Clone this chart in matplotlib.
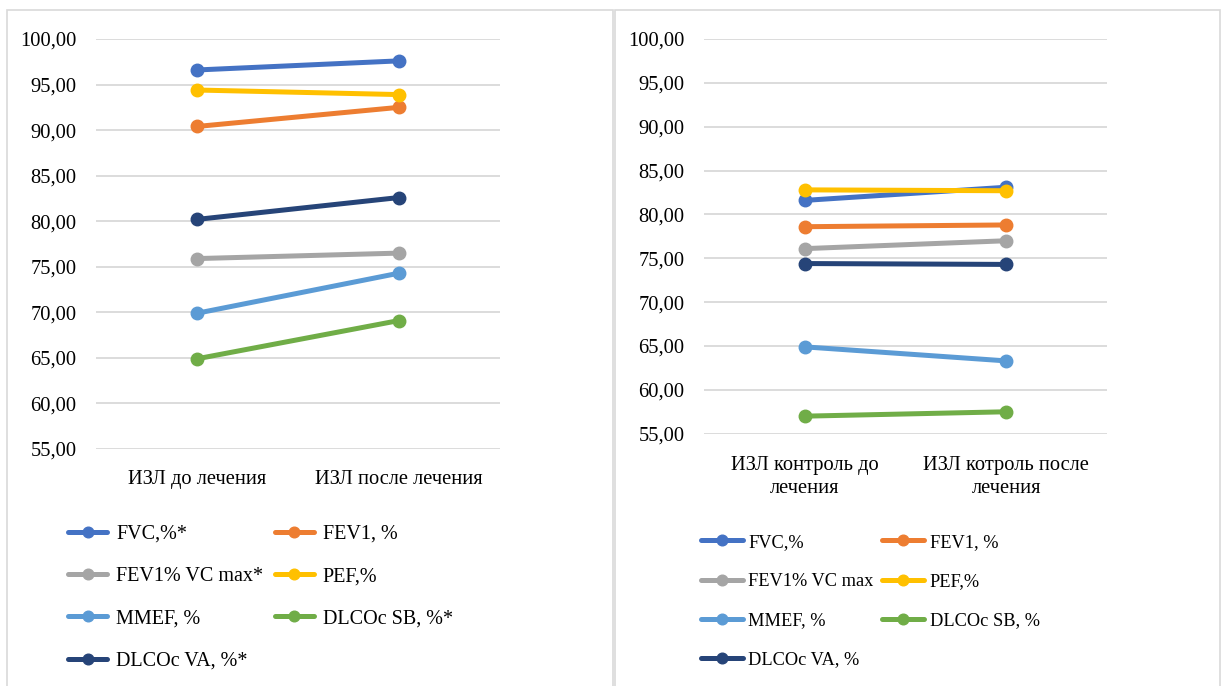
import numpy as np
import matplotlib
matplotlib.use("Agg")
import matplotlib.pyplot as plt
from matplotlib.patches import Rectangle
from matplotlib.ticker import FixedLocator, FuncFormatter

plt.rc('font', family=['Liberation Serif', 'DejaVu Serif'], size=14.8)

# series names and colours (Excel office palette)
names_left  = ["FVC,%*", "FEV1, %", "FEV1% VC max*", "PEF,%", "MMEF, %", "DLCOc SB, %*", "DLCOc VA, %*"]
names_right = ["FVC,%", "FEV1, %", "FEV1% VC max", "PEF,%", "MMEF, %", "DLCOc SB, %", "DLCOc VA, %"]
colors = ["#4472C4", "#ED7D31", "#A5A5A5", "#FFC000", "#5B9BD5", "#70AD47", "#264478"]

cats_left  = ["ИЗЛ до лечения", "ИЗЛ после лечения"]
cats_right = ["ИЗЛ контроль до\nлечения", "ИЗЛ котроль после\nлечения"]

# values: [before, after]
fvc_l   = [96.6, 97.6]
fev1_l  = [90.4, 92.5]
fevvc_l = [75.9, 76.5]
pef_l   = [94.4, 93.9]
mmef_l  = [69.9, 74.3]
dlsb_l  = [64.9, 69.1]
dlva_l  = [80.2, 82.6]

fvc_r   = [81.6, 83.1]
fev1_r  = [78.6, 78.8]
fevvc_r = [76.1, 77.0]
pef_r   = [82.8, 82.7]
mmef_r  = [64.9, 63.3]
dlsb_r  = [57.0, 57.5]
dlva_r  = [74.4, 74.3]

left_data  = [fvc_l, fev1_l, fevvc_l, pef_l, mmef_l, dlsb_l, dlva_l]
right_data = [fvc_r, fev1_r, fevvc_r, pef_r, mmef_r, dlsb_r, dlva_r]

yticks = np.arange(55, 101, 5)

W, H = 1222, 686
fig = plt.figure(figsize=(W/100, H/100), dpi=100)

# panel frames
fig.add_artist(Rectangle((7/W, -0.01), 606/W, 1 - 10/H + 0.01, transform=fig.transFigure,
                         fill=False, edgecolor="#d9d9d9", linewidth=1.2))
fig.add_artist(Rectangle((615/W, -0.01), 605/W, 1 - 10/H + 0.01, transform=fig.transFigure,
                         fill=False, edgecolor="#d9d9d9", linewidth=1.2))

def fmt(v, pos):
    return "{:.2f}".format(v).replace(".", ",")

def panel(rect, data, names, cats, xpad, leg):
    ax = fig.add_axes(rect)
    x = np.arange(len(cats))
    handles = []
    for vals, name, c in zip(data, names, colors):
        h, = ax.plot(x, vals, '-o', color=c, linewidth=3.6, markersize=9, label=name,
                     solid_capstyle='round')
        handles.append(h)
    ax.set_xlim(-0.5, 1.5)
    ax.set_ylim(55, 100)
    ax.yaxis.set_major_locator(FixedLocator(yticks))
    ax.yaxis.set_major_formatter(FuncFormatter(fmt))
    ax.set_xticks(x)
    ax.set_xticklabels(cats, linespacing=1.3)
    ax.grid(axis='y', color="#d9d9d9", linewidth=1.3)
    ax.set_axisbelow(True)
    for s in ax.spines.values():
        s.set_visible(False)
    ax.tick_params(axis='y', length=0, pad=14)
    ax.tick_params(axis='x', length=0, pad=xpad)
    order = [0, 2, 4, 6, 1, 3, 5]
    ax.legend([handles[i] for i in order], [names[i] for i in order], ncol=2,
              loc='upper left', bbox_transform=fig.transFigure,
              frameon=False, borderpad=0, markerscale=0.85, **leg)
    return ax

panel([96/W, 1 - 449/H, 404/W, 410/H], left_data, names_left, cats_left, 15,
      dict(bbox_to_anchor=(58/W, 1 - 514.7/H), fontsize=14.5, handlelength=1.95,
           handletextpad=0.45, columnspacing=0.55, labelspacing=1.15))
panel([704/W, 1 - 433.7/H, 403/W, 394.7/H], right_data, names_right, cats_right, 16,
      dict(bbox_to_anchor=(691.5/W, 1 - 524.7/H), fontsize=13.2, handlelength=2.3,
           handletextpad=0.3, columnspacing=0.46, labelspacing=1.21))

fig.savefig("out.png", dpi=100)
